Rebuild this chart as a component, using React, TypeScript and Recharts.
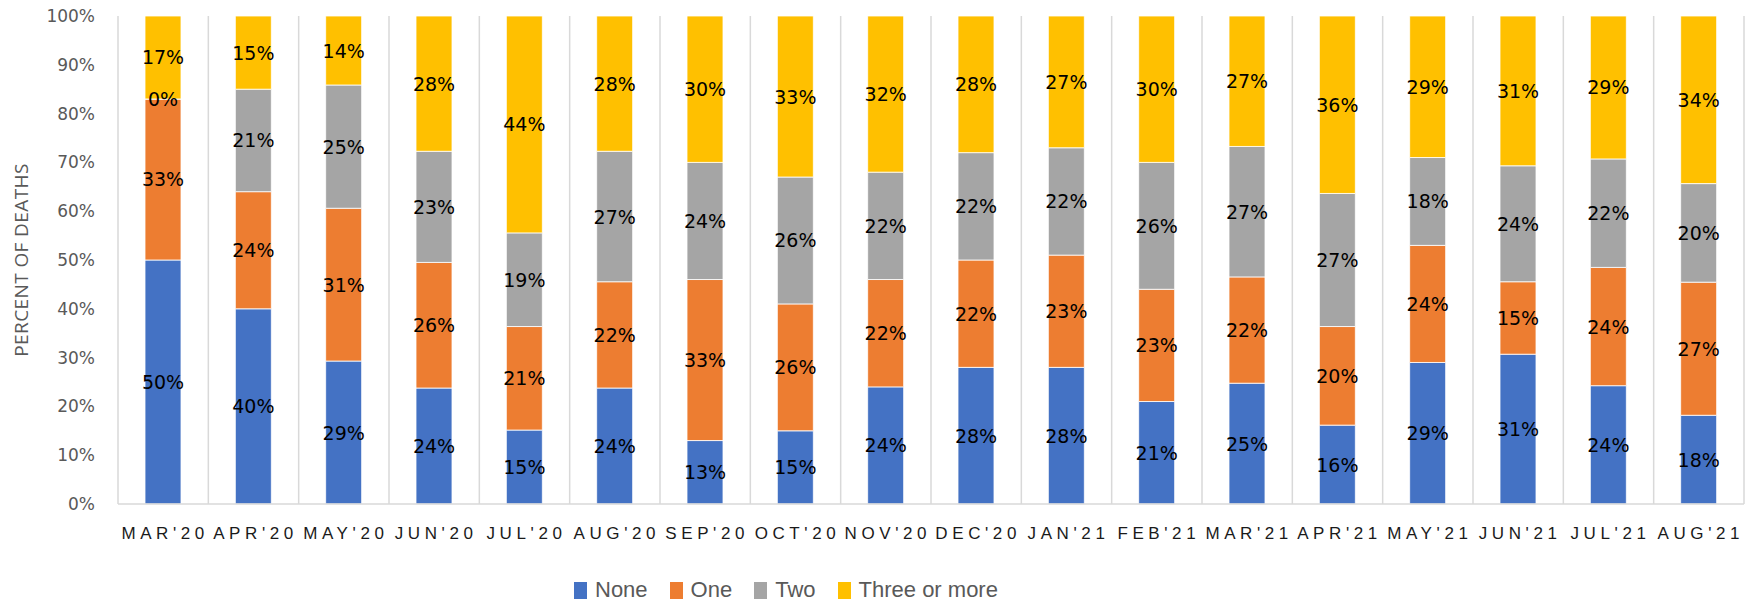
import React from 'react';
import { BarChart, Bar, XAxis, YAxis, CartesianGrid, Legend, LabelList } from 'recharts';

const months = [
  "MAR'20", "APR'20", "MAY'20", "JUN'20", "JUL'20", "AUG'20", "SEP'20", "OCT'20", "NOV'20",
  "DEC'20", "JAN'21", "FEB'21", "MAR'21", "APR'21", "MAY'21", "JUN'21", "JUL'21", "AUG'21",
];
const none = [50, 40, 29, 24, 15, 24, 13, 15, 24, 28, 28, 21, 25, 16, 29, 31, 24, 18];
const one = [33, 24, 31, 26, 21, 22, 33, 26, 22, 22, 23, 23, 22, 20, 24, 15, 24, 27];
const two = [0, 21, 25, 23, 19, 27, 24, 26, 22, 22, 22, 26, 27, 27, 18, 24, 22, 20];
const three = [17, 15, 14, 28, 44, 28, 30, 33, 32, 28, 27, 30, 27, 36, 29, 31, 29, 34];
const yTicks = [0, 0.1, 0.2, 0.3, 0.4, 0.5, 0.6, 0.7, 0.8, 0.9, 1];

const SERIES = [
  { key: 'none', name: 'None', color: '#4472C4' },
  { key: 'one', name: 'One', color: '#ED7D31' },
  { key: 'two', name: 'Two', color: '#A5A5A5' },
  { key: 'three', name: 'Three or more', color: '#FFC000' },
];

const data = months.map((month, i) => ({
  month,
  none: none[i],
  one: one[i],
  two: two[i],
  three: three[i],
}));

const SANS = '"Liberation Sans", Arial, sans-serif';
const DV = '"DejaVu Sans", sans-serif';

function renderLegend() {
  return (
    <div style={{ height: 30, display: 'flex', alignItems: 'center', paddingLeft: 574 }}>
      {SERIES.map((s) => (
        <div key={s.key} style={{ display: 'flex', alignItems: 'center', marginRight: 22 }}>
          <span style={{ display: 'inline-block', width: 13, height: 17, background: s.color, marginRight: 8 }} />
          <span style={{ fontFamily: SANS, fontSize: 22, color: '#595959', lineHeight: '30px' }}>{s.name}</span>
        </div>
      ))}
    </div>
  );
}

// draws the value even when the segment has zero height (MAR'20 "Two")
function SegmentLabel(props: any) {
  const { x, y, width, height, value } = props;
  if (value == null) return null;
  return (
    <text
      x={Number(x) + Number(width) / 2}
      y={Number(y) + Number(height) / 2}
      textAnchor="middle"
      dominantBaseline="central"
      fill="#000"
      fontSize={19}
      fontFamily={DV}
    >
      {`${value}%`}
    </text>
  );
}

export default function App() {
  return (
    <div style={{ position: 'absolute', left: 0, top: 0, width: 1756, height: 605, background: '#fff' }}>
      <BarChart
        width={1756}
        height={605}
        data={data}
        stackOffset="expand"
        margin={{ top: 16, right: 12, left: 0, bottom: 0 }}
        barSize={36}
      >
        <CartesianGrid
          horizontal={false}
          stroke="#d9d9d9"
          strokeWidth={1.5}
          verticalCoordinatesGenerator={({ offset }: any) =>
            Array.from({ length: months.length + 1 }, (_, i) => offset.left + (offset.width * i) / months.length)
          }
        />
        <XAxis
          dataKey="month"
          interval={0}
          height={71}
          tickLine={false}
          tickSize={0}
          tickMargin={23}
          axisLine={{ stroke: '#d9d9d9', strokeWidth: 1.5 }}
          tick={{ fill: '#1a1a1a', fontSize: 17, fontFamily: SANS, letterSpacing: 4.6, dx: 2 }}
        />
        <YAxis
          type="number"
          domain={[0, 1]}
          ticks={yTicks}
          width={118}
          axisLine={false}
          tickLine={false}
          tickSize={0}
          tickMargin={23}
          tickFormatter={(v: number) => `${Math.round(v * 100)}%`}
          tick={{ fill: '#595959', fontSize: 17, fontFamily: DV }}
          label={{
            value: 'PERCENT OF DEATHS',
            angle: -90,
            position: 'center',
            dx: -38,
            style: { fill: '#595959', fontSize: 19, fontFamily: '"Open Sans", sans-serif', letterSpacing: 0.4 },
          }}
        />
        <Legend verticalAlign="bottom" content={renderLegend} wrapperStyle={{ left: 0, bottom: 0, width: 1756 }} />
        {SERIES.map((s) => (
          <Bar
            key={s.key}
            dataKey={s.key}
            name={s.name}
            stackId="a"
            fill={s.color}
            stroke="#ffffff"
            strokeWidth={0.8}
            minPointSize={0.01}
            isAnimationActive={false}
          >
            <LabelList dataKey={s.key} content={SegmentLabel} />
          </Bar>
        ))}
      </BarChart>
    </div>
  );
}
